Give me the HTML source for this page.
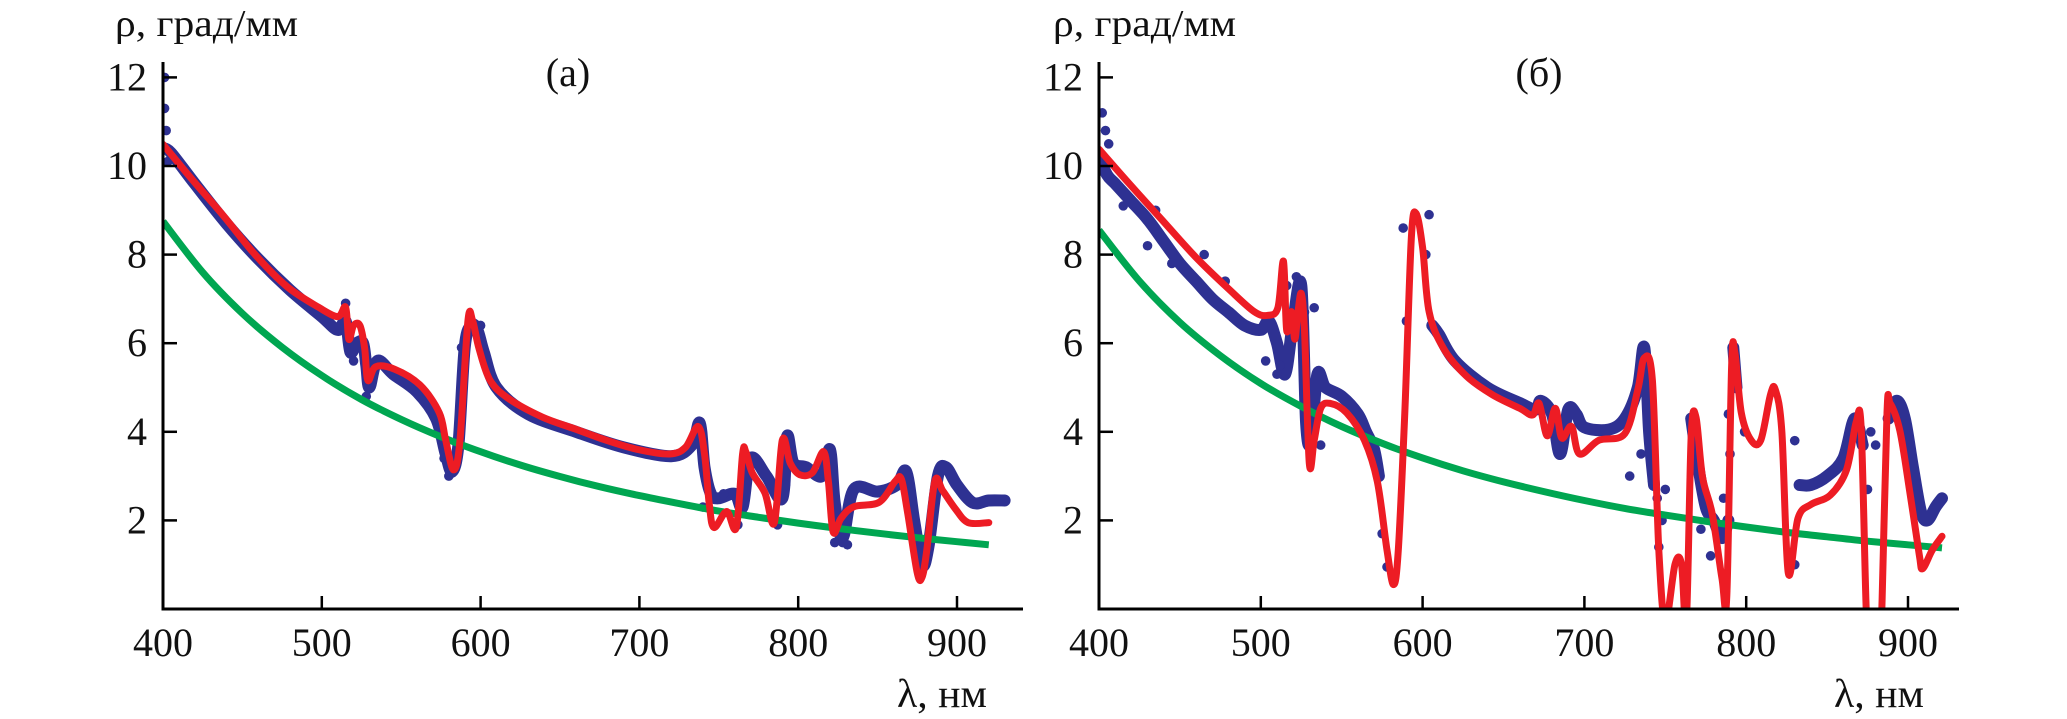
<!DOCTYPE html>
<html><head><meta charset="utf-8"><style>
html,body{margin:0;padding:0;background:#fff;}
svg{display:block;}
text{font-family:"Liberation Serif","Noto Serif CJK SC",serif;fill:#111;}
</style></head>
<body>
<svg id="chart" width="2067" height="719" viewBox="0 0 2067 719" xmlns="http://www.w3.org/2000/svg"></svg>
<script>
// ---------- Panel (a) data ----------
const aFitLambda = [400,418,438,458,478,498,510,515,517,520,524,527,529,534,546,562,574,578,583,587,592,595,599,606,618,639,659,679,699,719,729,737,741,744,747,755,761,765,767,771,779,785,790,795,801,809,816,819,822,827,835,851,861,865,869,875,878,881,886,891,899,907,920];
const aFitRho    = [10.49,9.71,8.88,8.0,7.28,6.81,6.6,6.81,6.09,6.4,6.4,5.88,5.16,5.47,5.41,5.05,4.43,3.81,3.14,3.81,6.5,6.5,5.88,5.16,4.74,4.33,4.07,3.81,3.6,3.5,3.65,4.12,3.5,2.36,1.84,2.2,1.84,3.5,3.55,3.08,2.62,1.95,3.81,3.29,3.03,3.08,3.55,2.88,1.74,2.05,2.31,2.41,2.88,2.93,2.15,0.81,0.72,1.33,2.88,2.67,2.26,1.95,1.95];
const aMeasLambda = [400,405,420,440,460,480,500,510,515,518,522,526,528,530,535,545,560,572,578,582,586,590,594,598,602,610,630,660,690,720,733,738,741,745,750,760,765,770,780,790,793,797,805,815,820,823,828,835,850,862,868,873,878,882,888,893,900,910,920,930];
const aMeasRho    = [10.4,10.3,9.6,8.7,7.9,7.2,6.6,6.3,6.5,5.8,6.0,6.0,5.5,5.0,5.6,5.3,4.9,4.3,3.5,3.1,3.7,5.9,6.4,6.3,5.8,5.0,4.4,4.0,3.65,3.45,3.7,4.2,3.2,2.6,2.5,2.6,2.3,3.4,3.0,2.5,3.9,3.3,3.2,3.0,3.6,2.4,1.6,2.7,2.65,2.8,3.1,2.0,1.0,1.4,3.0,3.2,2.8,2.4,2.45,2.45];
const aDotLambda = [401,401,402,403,515,520,528,577,580,585,588,590,598,600,740,753,762,787,792,823,828,831,822,800];
const aDotRho    = [12.0,11.3,10.8,10.1,6.9,5.6,4.8,3.4,3.0,3.8,5.9,5.6,6.4,6.4,2.3,2.6,1.9,1.9,2.8,1.5,1.5,1.45,2.0,3.2];
const aBgLambda = [400,425,450,475,500,525,550,575,600,625,650,675,700,725,750,775,800,825,850,875,900,920];
const aBgRho    = [8.75,7.60,6.67,5.91,5.27,4.73,4.28,3.89,3.55,3.25,2.99,2.76,2.56,2.38,2.21,2.07,1.94,1.82,1.71,1.61,1.52,1.45];

// ---------- Panel (б) data ----------
const bFitLambda = [400,418.7,439,459.6,480,496,504.5,510.6,514,516,519,521,523,525,527,530,533,537,543,553,564,572,578,582,585,589,593,596,600,604,613,627,643,660,668,672,677,682,686,692,697,709,725,733,737,742,746,750,756,760,763,766,769,773,779,785,788,791,793,797,803,809,815,818,822,826,832,840,852,862,868,871,874,876,882,884,887,889,895,901,907,909,915,921];
const bFitRho    = [10.38,9.6,8.78,7.95,7.23,6.71,6.63,6.81,7.85,6.29,6.71,6.09,6.71,7.12,6.29,3.29,3.81,4.53,4.64,4.43,3.81,2.88,1.33,0.55,1.33,4.43,8.36,8.93,8.16,6.71,5.88,5.26,4.84,4.53,4.38,4.64,3.91,4.53,3.86,4.12,3.5,3.81,3.96,4.95,5.67,5.16,1.33,-0.3,1.01,1.01,-0.3,3.91,4.33,2.98,2.15,0.7,0.29,5.47,5.78,4.43,3.81,3.81,4.84,4.95,4.02,0.81,2.05,2.36,2.57,3.14,4.22,4.12,0.2,-1.5,-1.5,0.2,4.43,4.64,4.02,2.67,1.22,0.91,1.33,1.64];
const bMeasLambda = [400,405,410,420,430,440,450,460,470,480,490,500,505,510,515,520,525,528,531,535,540,550,560,565,570,573,null,606,610,620,640,660,670,673,680,685,690,695,700,715,725,733,737,740,743,null,766,770,775,780,785,789,null,792,794,null,833,840,850,860,867,872,null,888,893,898,903,908,912,917,921];
const bMeasRho    = [10.2,9.8,9.6,9.2,8.8,8.3,7.8,7.4,7.0,6.7,6.4,6.3,6.5,6.0,5.3,6.5,7.3,4.2,3.8,5.3,5.0,4.8,4.4,4.0,3.6,3.0,null,6.4,6.2,5.6,5.0,4.65,4.5,4.7,4.4,3.5,4.5,4.4,4.1,4.05,4.3,5.0,5.9,4.0,2.8,null,4.3,3.3,2.3,2.0,1.6,2.0,null,5.9,5.0,null,2.8,2.8,3.0,3.4,4.3,3.7,null,4.3,4.7,4.3,3.2,2.2,2.0,2.3,2.5];
const bDotLambda = [402,404,406,415,430,435,445,465,478,503,510,512,516,522,527,533,537,575,578,588,590,604,602,728,735,742,745,746,750,748,772,778,786,790,789,799,830,830,880,877,875];
const bDotRho    = [11.2,10.8,10.5,9.1,8.2,9.0,7.8,8.0,7.4,5.6,5.3,5.5,7.3,7.5,6.7,6.8,3.7,1.7,0.95,8.6,6.5,8.9,8.0,3.0,3.5,2.9,2.5,1.4,2.7,2.0,1.8,1.2,2.5,3.5,4.4,4.0,3.8,1.0,3.7,4.0,2.7];
const bBgLambda = [400,425,450,475,500,525,550,575,600,625,650,675,700,725,750,775,800,825,850,875,900,921];
const bBgRho    = [8.55,7.40,6.47,5.72,5.09,4.57,4.12,3.74,3.41,3.12,2.87,2.65,2.45,2.27,2.12,1.98,1.85,1.73,1.63,1.53,1.45,1.38];

// ---------- Axis ticks ----------
const xTicks = [400,500,600,700,800,900];
const xTickLabels = ["400","500","600","700","800","900"];
const yTicks = [2,4,6,8,10,12];
const yTickLabels = ["2","4","6","8","10","12"];

const NS = "http://www.w3.org/2000/svg";
const svg = document.getElementById('chart');
function el(tag, attrs, parent){
  const e = document.createElementNS(NS, tag);
  for (const k in attrs) e.setAttribute(k, attrs[k]);
  (parent||svg).appendChild(e);
  return e;
}
const NAVY = "#2e3192", RED = "#ed1c24", GREEN = "#00a651";

function smoothPath(pts){
  let d = 'M' + pts[0][0].toFixed(1) + ',' + pts[0][1].toFixed(1);
  for (let i = 0; i < pts.length - 1; i++){
    const p0 = pts[Math.max(0, i-1)], p1 = pts[i], p2 = pts[i+1], p3 = pts[Math.min(pts.length-1, i+2)];
    const c1x = p1[0] + (p2[0]-p0[0])/6, c1y = p1[1] + (p2[1]-p0[1])/6;
    const c2x = p2[0] - (p3[0]-p1[0])/6, c2y = p2[1] - (p3[1]-p1[1])/6;
    d += ' C' + c1x.toFixed(1) + ',' + c1y.toFixed(1) + ' ' + c2x.toFixed(1) + ',' + c2y.toFixed(1) + ' ' + p2[0].toFixed(1) + ',' + p2[1].toFixed(1);
  }
  return d;
}

function panel(cfg){
  const g = el('g', {});
  
  
  const x = l => cfg.x0 + (l - 400) * cfg.kx;
  const y = v => cfg.y0 - v * cfg.ky;

  const clipId = cfg.name + '-clip';
  const defs = el('defs', {}, g);
  const cp = el('clipPath', {id: clipId}, defs);
  el('rect', {x: cfg.x0, y: 40, width: cfg.xEnd - cfg.x0, height: cfg.y0 - 40}, cp);
  const plot = el('g', {'clip-path': 'url(#' + clipId + ')'}, g);
  
  

  // measured band (blue)
  let segs = [], cur = [];
  cfg.mL.forEach((l, i) => {
    if (l === null) { if (cur.length) segs.push(cur); cur = []; }
    else cur.push([x(l), y(cfg.mR[i])]);
  });
  if (cur.length) segs.push(cur);
  segs.forEach(s => {
    const p = el('path', {d: smoothPath(s), fill: 'none', stroke: NAVY, 'stroke-width': 12, 'stroke-linejoin': 'round', 'stroke-linecap': 'round'}, plot);
    
    
  });
  cfg.dL.forEach((l, i) => {
    const c = el('circle', {cx: x(l), cy: y(cfg.dR[i]), r: 4.8, fill: NAVY}, plot);
    
    
  });
  // background (green)
  const gp = el('path', {d: smoothPath(cfg.gL.map((l, i) => [x(l), y(cfg.gR[i])])), fill: 'none', stroke: GREEN, 'stroke-width': 7, 'stroke-linejoin': 'round'}, plot);
  
  
  // fit (red)
  const rp = el('path', {d: smoothPath(cfg.fL.map((l, i) => [x(l), y(cfg.fR[i])])), fill: 'none', stroke: RED, 'stroke-width': 7, 'stroke-linejoin': 'round', 'stroke-linecap': 'round'}, plot);
  
  

  // axes
  const ya = el('line', {x1: cfg.x0, y1: 62, x2: cfg.x0, y2: cfg.y0 + 1.5, stroke: '#000', 'stroke-width': 3}, g);
  
  
  const xa = el('line', {x1: cfg.x0 - 1.5, y1: cfg.y0, x2: cfg.xEnd, y2: cfg.y0, stroke: '#000', 'stroke-width': 3}, g);
  
  

  xTicks.forEach((t, i) => {
    if (t > 400) {
      const tk = el('line', {x1: x(t), y1: cfg.y0, x2: x(t), y2: cfg.y0 - 13, stroke: '#000', 'stroke-width': 2.5}, g);
      
      
    }
    const tx = el('text', {x: x(t), y: cfg.y0 + 47, 'font-size': 40, 'text-anchor': 'middle'}, g);
    tx.textContent = xTickLabels[i];
    
    
  });
  yTicks.forEach((t, i) => {
    const tk = el('line', {x1: cfg.x0, y1: y(t), x2: cfg.x0 + 14, y2: y(t), stroke: '#000', 'stroke-width': 2.5}, g);
    
    
    const tx = el('text', {x: cfg.x0 - 16, y: y(t) + 13, 'font-size': 40, 'text-anchor': 'end'}, g);
    tx.textContent = yTickLabels[i];
    
    
  });

  const yt = el('text', {x: cfg.ylabX, y: 36, 'font-size': 38, textLength: 183, lengthAdjust: 'spacingAndGlyphs'}, g);
  yt.textContent = 'ρ, град/мм';
  
  
  const xt = el('text', {x: cfg.xlabX, y: 707, 'font-size': 40, textLength: 90, lengthAdjust: 'spacingAndGlyphs'}, g);
  xt.textContent = 'λ, нм';
  
  
  const pt = el('text', {x: cfg.titleX, y: 86, 'font-size': 40, 'text-anchor': 'middle'}, g);
  pt.textContent = cfg.title;
  
  
}

panel({name: 'panel-a', x0: 163, y0: 609, kx: 1.588, ky: 44.3, xEnd: 1023,
  fL: aFitLambda, fR: aFitRho, mL: aMeasLambda, mR: aMeasRho, dL: aDotLambda, dR: aDotRho, gL: aBgLambda, gR: aBgRho,
  ylabX: 115, xlabX: 897, titleX: 568, title: '(a)'});
panel({name: 'panel-b', x0: 1099, y0: 609, kx: 1.618, ky: 44.3, xEnd: 1959,
  fL: bFitLambda, fR: bFitRho, mL: bMeasLambda, mR: bMeasRho, dL: bDotLambda, dR: bDotRho, gL: bBgLambda, gR: bBgRho,
  ylabX: 1053, xlabX: 1834, titleX: 1539, title: '(б)'});
</script>
</body></html>
